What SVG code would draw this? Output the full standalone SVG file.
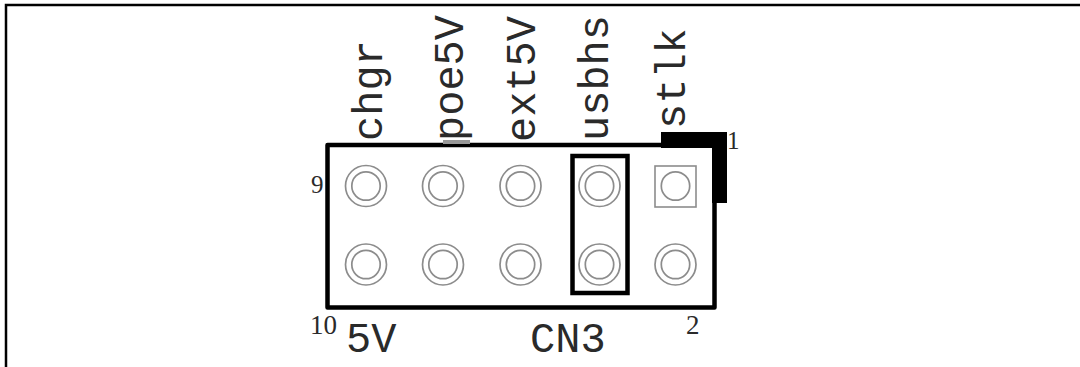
<svg xmlns="http://www.w3.org/2000/svg" width="1080" height="367" viewBox="0 0 1080 367">
<style>
.lbl{font-family:"Liberation Mono","DejaVu Sans Mono",monospace;font-size:42px;fill:#2a2a2a}
.num{font-family:"Liberation Serif","DejaVu Serif",serif;fill:#2a2a2a}
.ring{fill:none;stroke:#8c8c8c;stroke-width:1.7}
.body{fill:#fff;stroke:#000;stroke-width:4.5;stroke-linejoin:round}
</style>
<defs>
<g id="pin">
<circle class="ring" r="20.5"/>
<circle class="ring" r="14.2"/>
</g>
</defs>
<rect width="1080" height="367" fill="#fff"/>
<g id="frame" stroke="#000" stroke-width="2.5" fill="none">
<path d="M6,367 V5 H1080"/>
</g>
<g id="connector-CN3">
<rect class="body" x="327.5" y="145" width="387" height="162.5"/>
<rect x="443" y="140" width="27" height="4" fill="#999"/>
<path d="M661,132 H727 V203 H712 V148 H661 Z" fill="#000"/>
</g>
<g id="pins">
<use href="#pin" x="366" y="186"/>
<use href="#pin" x="443" y="186"/>
<use href="#pin" x="520.5" y="186"/>
<use href="#pin" x="599.5" y="186"/>
<g id="pin1">
<rect x="655" y="166" width="41" height="41" fill="none" stroke="#8c8c8c" stroke-width="1.6"/>
<circle class="ring" cx="675.5" cy="186" r="14.2"/>
</g>
<use href="#pin" x="366" y="264.5"/>
<use href="#pin" x="443" y="264.5"/>
<use href="#pin" x="520.5" y="264.5"/>
<use href="#pin" x="599.5" y="264.5"/>
<use href="#pin" x="675.5" y="264.5"/>
</g>
<g id="jumper">
<rect x="572.5" y="156" width="55" height="137" fill="none" stroke="#000" stroke-width="4.5"/>
</g>
<g id="labels">
<text class="lbl" transform="translate(382,141) rotate(-90)">chgr</text>
<text class="lbl" transform="translate(463,141) rotate(-90)">poe5V</text>
<text class="lbl" transform="translate(535,142) rotate(-90)">ext5V</text>
<text class="lbl" transform="translate(608,141) rotate(-90)">usbhs</text>
<text class="lbl" transform="translate(685,129) rotate(-90)">stlk</text>
<text class="lbl" x="346" y="352">5V</text>
<text class="lbl" x="530" y="352">CN3</text>
<text class="num" x="311" y="193" font-size="25">9</text>
<text class="num" x="727" y="149" font-size="25">1</text>
<text class="num" x="310" y="334" font-size="27">10</text>
<text class="num" x="686" y="334" font-size="27">2</text>
</g>
<g id="connectors"/>
</svg>
